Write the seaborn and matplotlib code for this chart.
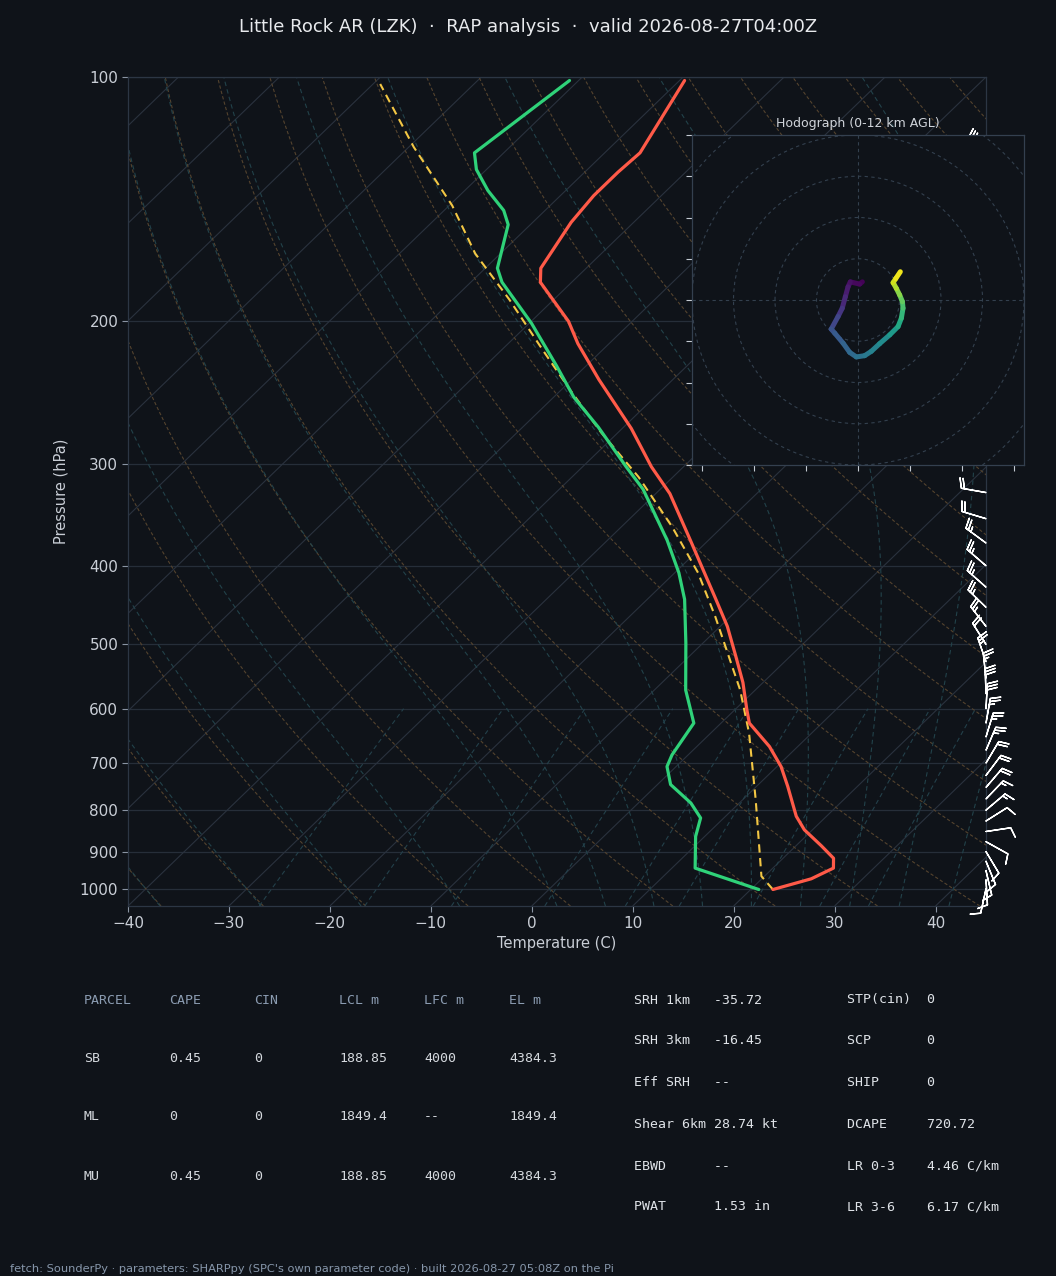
import numpy as np
import matplotlib
matplotlib.use("Agg")
import matplotlib.pyplot as plt
import matplotlib.transforms as mtransforms
from matplotlib.collections import LineCollection
from matplotlib.ticker import NullLocator
import seaborn as sns

# ---------------- data ----------------
temp_p = [1002, 972, 943, 917, 885, 846, 814, 748, 707, 668, 625, 602, 557, 517, 475,
          440, 372, 326, 302, 271, 236, 213, 200, 179, 172, 151, 140, 131, 124, 101]
temp_c = [22.2, 24.9, 26.0, 25.0, 22.5, 19.2, 17.0, 13.1, 10.4, 7.2, 2.8, 1.2, -2.0, -5.4, -9.3,
          -13.2, -21.8, -28.6, -33.2, -39.1, -47.3, -53.1, -56.3, -63.1, -64.5, -66.2, -66.7, -66.7, -66.5, -69.5]

dwpt_p = [1002, 943, 862, 818, 784, 744, 707, 684, 625, 569, 498, 440, 408, 372, 322, 302,
          270, 248, 227, 201, 179, 172, 152, 146, 138, 130, 124, 101]
dwpt_c = [20.8, 12.3, 9.1, 7.7, 5.2, 1.3, -0.9, -1.6, -2.7, -6.9, -11.7, -16.3, -19.6, -24.1, -31.7, -35.7,
          -42.5, -48.0, -52.9, -59.8, -66.9, -68.8, -72.2, -74.1, -77.7, -81.0, -82.9, -80.9]

parcel_p = [1002, 965, 777, 643, 569, 462, 408, 358, 311, 274, 243, 217, 188, 165, 144, 122, 102]
parcel_c = [22.2, 19.7, 11.3, 3.8, -1.5, -11.5, -17.7, -25.0, -33.4, -41.7, -49.1, -55.9, -64.4,
            -72.5, -79.7, -89.5, -99.3]

wind_p = [1000, 975, 950, 925, 900, 875, 850, 825, 800, 775, 750, 725, 700, 675, 650, 625, 600, 575,
          550, 525, 500, 475, 450, 425, 400, 375, 350, 325, 300, 275, 250, 225, 200, 175, 150, 125]
wind_u = [1.9, -0.5, -2.0, -3.5, -4.8, -9.0, -10.0, -9.5, -10.0, -11.0, -12.0, -12.0, -11.0, -9.0, -7.0, -4.5,
          -1.5, 1.0, 3.0, 8.0, 12.0, 14.0, 16.5, 17.5, 18.5, 19.0, 20.0, 20.0, 20.1, 18.8, 17.3, 18.4,
          22.0, 24.0, 24.0, 21.0]
wind_v = [8.7, 8.5, 8.5, 8.5, 8.0, 5.0, -1.5, -6.0, -8.5, -11.5, -14.0, -16.0, -18.5, -21.0, -23.0, -25.5,
          -27.5, -28.0, -27.0, -23.0, -19.0, -18.0, -16.0, -15.5, -16.0, -14.0, -6.0, -3.5, 0.0, 5.1, 7.8, 10.7,
          15.0, 14.0, -5.0, -21.0]

hodo_h = [0.0, 0.15, 0.4, 0.7, 1.1, 1.6, 2.1, 2.9, 3.2, 3.6, 3.9, 4.3, 4.7, 5.0, 5.5, 6.1, 6.9, 7.6,
          8.3, 8.8, 9.5, 10.2, 10.9, 11.4, 12.0]
hodo_u = [2.1, 0.8, -3.7, -4.8, -6.1, -7.6, -9.6, -12.9, -11.2, -7.2, -4.0, -0.8, 3.2, 6.4, 10.4, 15.3,
          19.3, 20.9, 21.7, 21.4, 20.1, 18.5, 16.9, 18.2, 20.4]
hodo_v = [8.8, 7.7, 8.8, 6.4, 1.6, -4.0, -8.0, -14.1, -16.1, -20.9, -25.4, -27.6, -27.0, -24.9, -21.2,
          -16.9, -12.9, -8.8, -4.0, -0.8, 2.4, 5.6, 8.4, 10.4, 13.7]

parcel_cols = ["PARCEL", "CAPE", "CIN", "LCL m", "LFC m", "EL m"]
parcel_rows = [["SB", "0.45", "0", "188.85", "4000", "4384.3"],
               ["ML", "0", "0", "1849.4", "--", "1849.4"],
               ["MU", "0.45", "0", "188.85", "4000", "4384.3"]]
idx_left_names = ["SRH 1km", "SRH 3km", "Eff SRH", "Shear 6km", "EBWD", "PWAT"]
idx_left_vals = ["-35.72", "-16.45", "--", "28.74 kt", "--", "1.53 in"]
idx_right_names = ["STP(cin)", "SCP", "SHIP", "DCAPE", "LR 0-3", "LR 3-6"]
idx_right_vals = ["0", "0", "0", "720.72", "4.46 C/km", "6.17 C/km"]

title = "Little Rock AR (LZK)  \u00b7  RAP analysis  \u00b7  valid 2026-08-27T04:00Z"
footer = ("fetch: SounderPy \u00b7 parameters: SHARPpy (SPC's own parameter code) \u00b7 "
          "built 2026-08-27 05:08Z on the Pi")

# ---------------- style ----------------
BG = "#0f1319"
RED, GREEN, YELLOW = "#ff5a48", "#2fd279", "#f3c744"
sns.set_theme(style="dark")
plt.rcParams.update({
    "figure.facecolor": BG, "axes.facecolor": BG, "savefig.facecolor": BG,
    "axes.edgecolor": "#2c3644", "axes.labelcolor": "#c9ced6", "axes.linewidth": 0.9,
    "xtick.color": "#8a94a3", "ytick.color": "#8a94a3",
    "xtick.labelcolor": "#c9ced6", "ytick.labelcolor": "#c9ced6",
    "text.color": "#e6e8eb", "axes.grid": False,
    "xtick.bottom": True, "ytick.left": True,
})
plt.rcParams["font.family"] = ["DejaVu Sans"]

W, H = 1056, 1276
fig = plt.figure(figsize=(W / 100, H / 100), dpi=100)


def fx(x):
    return x / W


def fy(y):
    return 1 - y / H


ax = fig.add_axes([fx(128), fy(906), 858 / W, 829 / H])
ax.set_facecolor(BG)
ax.set_yscale("log")
ax.set_xlim(-40, 45)
ax.set_ylim(1050, 100)
skew = ax.transScale + ax.transLimits + mtransforms.Affine2D().skew_deg(45, 0) + ax.transAxes

# background reference lines
p_bg = np.geomspace(1050, 100, 160)
iso = [np.column_stack([[t, t], [1050, 100]]) for t in range(-160, 50, 10)]
ax.add_collection(LineCollection(iso, colors="#2a323e", linewidths=0.8, transform=skew, zorder=1),
                  autolim=False)

dry = [np.column_stack([(t0 + 273.15) * (p_bg / 1000.0) ** 0.2857 - 273.15, p_bg])
       for t0 in np.arange(-40, 246, 10)]
ax.add_collection(LineCollection(dry, colors="#54432e", linewidths=0.8, linestyles=(0, (3, 2)),
                                 transform=skew, zorder=1), autolim=False)


def _dtdp(p, T):
    es = 6.112 * np.exp(17.67 * (T - 273.15) / (T - 29.65))
    es = np.minimum(es, 0.8 * p)
    rs = 0.622 * es / (p - es)
    return (287.05 * T + 2.501e6 * rs) / (p * (1005.7 + 2.501e6 ** 2 * rs * 0.622 / (287.05 * T * T)))


def moist(t0c, grid):
    T = np.asarray(t0c, float) + 273.15
    out = [T.copy()]
    for i in range(1, len(grid)):
        p0, p1 = grid[i - 1], grid[i]
        h = p1 - p0
        k1 = _dtdp(p0, T)
        k2 = _dtdp(p0 + h / 2, T + h / 2 * k1)
        k3 = _dtdp(p0 + h / 2, T + h / 2 * k2)
        k4 = _dtdp(p1, T + h * k3)
        T = T + h / 6 * (k1 + 2 * k2 + 2 * k3 + k4)
        out.append(T.copy())
    return np.array(out) - 273.15


moist_t0 = np.concatenate((np.arange(-40, 0, 10), np.arange(0, 51, 5)))
g_up = np.geomspace(1000, 100, 150)
g_dn = np.linspace(1000, 1050, 6)
m_up = moist(moist_t0, g_up)
m_dn = moist(moist_t0, g_dn)
moist_lines = []
for j in range(len(moist_t0)):
    tt = np.concatenate([m_dn[::-1, j], m_up[1:, j]])
    pp = np.concatenate([g_dn[::-1], g_up[1:]])
    moist_lines.append(np.column_stack([tt, pp]))
ax.add_collection(LineCollection(moist_lines, colors="#22424a", linewidths=0.8, linestyles=(0, (4, 3)),
                                 transform=skew, zorder=1), autolim=False)

p_mix = np.geomspace(1050, 600, 40)
mix_lines = []
for w in [0.0004, 0.001, 0.002, 0.004, 0.007, 0.01, 0.016, 0.024, 0.032]:
    e = p_mix * w / (0.622 + w)
    lg = np.log(e / 6.112)
    mix_lines.append(np.column_stack([243.5 * lg / (17.67 - lg), p_mix]))
ax.add_collection(LineCollection(mix_lines, colors="#23404a", linewidths=0.8, linestyles=(0, (4, 3)),
                                 transform=skew, zorder=1), autolim=False)

# profiles
sns.lineplot(x=temp_c, y=temp_p, sort=False, estimator=None, color=RED, linewidth=2.3,
             transform=skew, ax=ax, zorder=5)
sns.lineplot(x=dwpt_c, y=dwpt_p, sort=False, estimator=None, color=GREEN, linewidth=2.3,
             transform=skew, ax=ax, zorder=5)
sns.lineplot(x=parcel_c, y=parcel_p, sort=False, estimator=None, color=YELLOW, linewidth=1.5,
             dashes=False, linestyle=(0, (4, 2.6)), transform=skew, ax=ax, zorder=4)

# wind barbs on the right edge
ax.barbs(np.ones(len(wind_p)), np.array(wind_p, float), np.array(wind_u), np.array(wind_v),
         transform=ax.get_yaxis_transform(), clip_on=False, color="white", length=6,
         linewidth=1.0, zorder=6)

ax.set_xlim(-40, 45)
ax.set_ylim(1050, 100)
ax.set_xticks(range(-40, 41, 10))
yt = [100, 200, 300, 400, 500, 600, 700, 800, 900, 1000]
ax.set_yticks(yt)
ax.set_yticklabels([str(v) for v in yt])
ax.yaxis.set_minor_locator(NullLocator())
ax.xaxis.set_minor_locator(NullLocator())
ax.tick_params(axis="both", labelsize=11, length=4, width=0.8, direction="out", pad=3)
ax.yaxis.grid(True, color="#262e39", linewidth=0.9)
ax.xaxis.grid(False)
ax.set_axisbelow(True)
ax.set_xlabel("Temperature (C)", fontsize=10.5, labelpad=4)
ax.set_ylabel("Pressure (hPa)", fontsize=10.5, labelpad=8)
for s in ax.spines.values():
    s.set_color("#2c3644")

# hodograph inset
hx = fig.add_axes([fx(692), fy(465), 332 / W, 330 / H])
hx.set_facecolor(BG)
hx.set_xlim(-80, 80)
hx.set_ylim(-80, 80)
for r in (20, 40, 60, 80, 100):
    hx.add_patch(plt.Circle((0, 0), r, fill=False, linestyle=(0, (3, 3)), color="#33404e", lw=0.8))
hx.axhline(0, color="#33404e", lw=0.8, linestyle=(0, (3, 3)))
hx.axvline(0, color="#33404e", lw=0.8, linestyle=(0, (3, 3)))
pts = np.column_stack([hodo_u, hodo_v])
segs = np.stack([pts[:-1], pts[1:]], axis=1)
hh = np.array(hodo_h)
lc = LineCollection(segs, cmap="viridis", norm=plt.Normalize(0, 12), linewidths=3.6, capstyle="round")
lc.set_array(0.5 * (hh[:-1] + hh[1:]))
hx.add_collection(lc)
hx.set_xticks([-75, -50, -25, 0, 25, 50, 75])
hx.set_yticks(range(-80, 81, 20))
hx.tick_params(labelleft=False, labelbottom=False, length=4, width=0.8, color="#c5cbd3", direction="out")
hx.set_title("Hodograph (0-12 km AGL)", fontsize=9, color="#d0d4da", pad=6)
for s in hx.spines.values():
    s.set_color("#34404f")

# title & footer
fig.text(0.5, fy(27), title, ha="center", va="center", fontsize=13, color="#e8eaed")
fig.text(fx(10), fy(1269), footer, ha="left", va="center", fontsize=8.2, color="#8797ab")

# parcel table
mono = "DejaVu Sans Mono"
col_x = [84, 169, 254, 339, 424, 509]
for cx, name in zip(col_x, parcel_cols):
    fig.text(fx(cx), fy(1000), name, ha="left", va="center", family=mono, fontsize=9.5, color="#8b9cb1")
for ry, row in zip([1058, 1117, 1176], parcel_rows):
    for cx, val in zip(col_x, row):
        fig.text(fx(cx), fy(ry), val, ha="left", va="center", family=mono, fontsize=9.5, color="#d5d9de")

# index table
rows_y = [1000, 1041, 1083, 1124, 1166, 1207]
for ry, n, v in zip(rows_y, idx_left_names, idx_left_vals):
    fig.text(fx(634), fy(ry), f"{n:<10}{v}", ha="left", va="center", family=mono, fontsize=9.5,
             color="#dfe3e8")
for ry, n, v in zip(rows_y, idx_right_names, idx_right_vals):
    fig.text(fx(847), fy(ry), f"{n:<10}{v}", ha="left", va="center", family=mono, fontsize=9.5,
             color="#dfe3e8")

fig.savefig("out.png", dpi=100)
